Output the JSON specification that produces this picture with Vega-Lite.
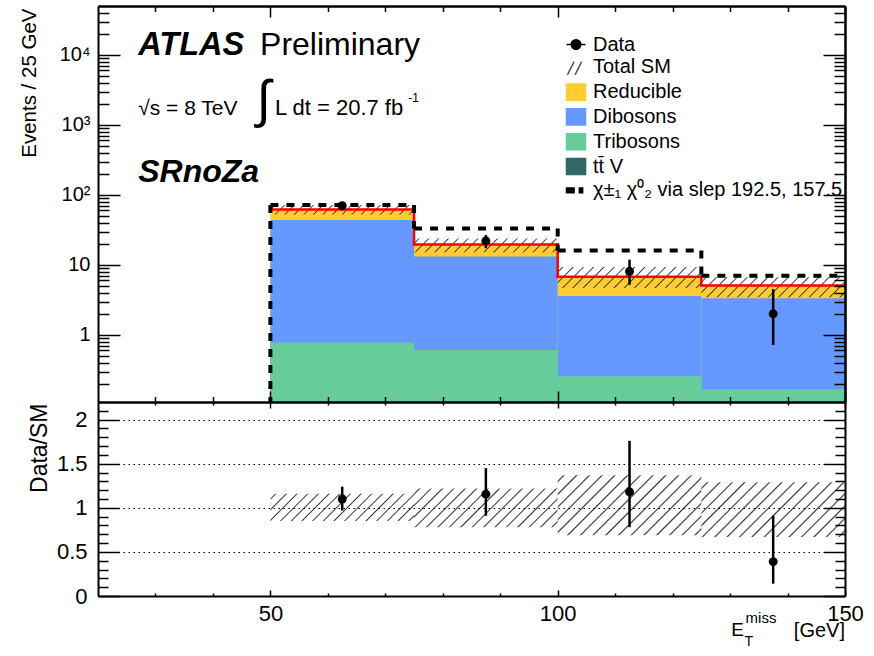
{
"$schema": "https://vega.github.io/schema/vega-lite/v6.json",
"background": "white",
"padding": {"left": 19, "top": 5, "right": 5, "bottom": 5},
"spacing": 0,
"bounds": "flush",
"config": {
  "view": {"stroke": null},
  "font": "Liberation Sans",
  "axis": {"domainColor": "black", "domainWidth": 2, "labelColor": "black", "labelFont": "Liberation Sans", "titleFont": "Liberation Sans", "titleColor": "black", "titleFontWeight": "normal", "grid": false, "labelFlush": false, "labelOverlap": false}
},
"params": [{"name": "hs", "value": [
{"offset":0.02325,"color":"rgba(51,51,51,0)"},{"offset":0.03125,"color":"#333333"},{"offset":0.03925,"color":"rgba(51,51,51,0)"},
{"offset":0.08575,"color":"rgba(51,51,51,0)"},{"offset":0.09375,"color":"#333333"},{"offset":0.10175,"color":"rgba(51,51,51,0)"},
{"offset":0.14825,"color":"rgba(51,51,51,0)"},{"offset":0.15625,"color":"#333333"},{"offset":0.16425,"color":"rgba(51,51,51,0)"},
{"offset":0.21075,"color":"rgba(51,51,51,0)"},{"offset":0.21875,"color":"#333333"},{"offset":0.22675,"color":"rgba(51,51,51,0)"},
{"offset":0.27325,"color":"rgba(51,51,51,0)"},{"offset":0.28125,"color":"#333333"},{"offset":0.28925,"color":"rgba(51,51,51,0)"},
{"offset":0.33575,"color":"rgba(51,51,51,0)"},{"offset":0.34375,"color":"#333333"},{"offset":0.35175,"color":"rgba(51,51,51,0)"},
{"offset":0.39825,"color":"rgba(51,51,51,0)"},{"offset":0.40625,"color":"#333333"},{"offset":0.41425,"color":"rgba(51,51,51,0)"},
{"offset":0.46075,"color":"rgba(51,51,51,0)"},{"offset":0.46875,"color":"#333333"},{"offset":0.47675,"color":"rgba(51,51,51,0)"},
{"offset":0.52325,"color":"rgba(51,51,51,0)"},{"offset":0.53125,"color":"#333333"},{"offset":0.53925,"color":"rgba(51,51,51,0)"},
{"offset":0.58575,"color":"rgba(51,51,51,0)"},{"offset":0.59375,"color":"#333333"},{"offset":0.60175,"color":"rgba(51,51,51,0)"},
{"offset":0.64825,"color":"rgba(51,51,51,0)"},{"offset":0.65625,"color":"#333333"},{"offset":0.66425,"color":"rgba(51,51,51,0)"},
{"offset":0.71075,"color":"rgba(51,51,51,0)"},{"offset":0.71875,"color":"#333333"},{"offset":0.72675,"color":"rgba(51,51,51,0)"},
{"offset":0.77325,"color":"rgba(51,51,51,0)"},{"offset":0.78125,"color":"#333333"},{"offset":0.78925,"color":"rgba(51,51,51,0)"},
{"offset":0.83575,"color":"rgba(51,51,51,0)"},{"offset":0.84375,"color":"#333333"},{"offset":0.85175,"color":"rgba(51,51,51,0)"},
{"offset":0.89825,"color":"rgba(51,51,51,0)"},{"offset":0.90625,"color":"#333333"},{"offset":0.91425,"color":"rgba(51,51,51,0)"},
{"offset":0.96075,"color":"rgba(51,51,51,0)"},{"offset":0.96875,"color":"#333333"},{"offset":0.97675,"color":"rgba(51,51,51,0)"}
]}],
"datasets": {
  "stack": [
    {"process": "Reducible", "lo": 50, "hi": 75, "top": 62},
    {"process": "Reducible", "lo": 75, "hi": 100, "top": 19.5},
    {"process": "Reducible", "lo": 100, "hi": 125, "top": 6.8},
    {"process": "Reducible", "lo": 125, "hi": 150, "top": 5.07},
    {"process": "Dibosons", "lo": 50, "hi": 75, "top": 43.7},
    {"process": "Dibosons", "lo": 75, "hi": 100, "top": 13.2},
    {"process": "Dibosons", "lo": 100, "hi": 125, "top": 3.6},
    {"process": "Dibosons", "lo": 125, "hi": 150, "top": 3.33},
    {"process": "Tribosons", "lo": 50, "hi": 75, "top": 0.78},
    {"process": "Tribosons", "lo": 75, "hi": 100, "top": 0.61},
    {"process": "Tribosons", "lo": 100, "hi": 125, "top": 0.257},
    {"process": "Tribosons", "lo": 125, "hi": 150, "top": 0.167}
  ],
  "bins": [
    {"lo": 50, "hi": 75, "mid": 62.5, "total": 62, "sig": 72, "data": 70, "dlo": 61.6, "dhi": 78.4, "ulo": 52.7, "uhi": 71.9, "ratio": 1.10, "rlo": 0.97, "rhi": 1.24, "blo": 0.85, "bhi": 1.16},
    {"lo": 75, "hi": 100, "mid": 87.5, "total": 19.5, "sig": 33, "data": 22, "dlo": 17.3, "dhi": 26.7, "ulo": 15.2, "uhi": 23.8, "ratio": 1.155, "rlo": 0.91, "rhi": 1.45, "blo": 0.78, "bhi": 1.22},
    {"lo": 100, "hi": 125, "mid": 112.5, "total": 6.8, "sig": 16, "data": 8.1, "dlo": 5.2, "dhi": 11.9, "ulo": 4.69, "uhi": 9.32, "ratio": 1.18, "rlo": 0.78, "rhi": 1.76, "blo": 0.69, "bhi": 1.37},
    {"lo": 125, "hi": 150, "mid": 137.5, "total": 5.07, "sig": 7.0, "data": 2.0, "dlo": 0.72, "dhi": 4.5, "ulo": 3.45, "uhi": 6.69, "ratio": 0.39, "rlo": 0.14, "rhi": 0.91, "blo": 0.67, "bhi": 1.29}
  ]
},
"vconcat": [
{
  "width": 747, "height": 396,
  "layer": [
    {"data": {"name": "stack"}, "mark": {"type": "rect", "clip": true},
     "encoding": {
       "x": {"field": "lo", "type": "quantitative", "scale": {"domain": [20, 150], "nice": false, "zero": false},
             "axis": {"orient": "bottom", "values": [50, 100, 150], "labels": false, "title": null, "ticks": true, "tickSize": 6, "tickColor": "#000000", "tickWidth": 1.5, "zindex": 1}},
       "x2": {"field": "hi"},
       "y": {"field": "top", "type": "quantitative", "scale": {"type": "log", "domain": [0.11, 50000], "nice": false},
             "axis": {"orient": "left", "values": [1, 10, 100, 1000, 10000], "ticks": false, "labelPadding": 8, "labelFontSize": 20, "zindex": 1,
                      "labelExpr": "datum.value == 1 ? '1' : datum.value == 10 ? '10' : datum.value == 100 ? '10²' : datum.value == 1000 ? '10³' : '10⁴'",
                      "title": "Events / 25 GeV", "titleFontSize": 20.5, "titleAnchor": "end", "titleAngle": 270, "titleAlign": "right", "titleX": -63, "titleY": 2, "titleBaseline": "alphabetic"}},
       "y2": {"datum": 0.11},
       "color": {"field": "process", "type": "nominal", "scale": {"domain": ["Reducible", "Dibosons", "Tribosons", "tt̄ V"], "range": ["#FFCC33", "#6699FF", "#66CC99", "#336666"]}, "legend": null}
     }},
    {"data": {"name": "stack"}, "mark": {"type": "point", "filled": true, "opacity": 0},
     "encoding": {
       "x": {"field": "lo", "type": "quantitative", "axis": null},
       "y": {"field": "top", "type": "quantitative", "axis": null},
       "fill": {"field": "process", "type": "nominal",
                "scale": {"domain": ["Data", "Total SM", "Reducible", "Dibosons", "Tribosons", "tt̄ V", "χ±₁ χ⁰₂ via slep 192.5, 157.5"], "range": ["black", "transparent", "#FFCC33", "#6699FF", "#66CC99", "#336666", "black"]},
                "legend": {"orient": "none", "legendX": 467.5, "legendY": 28, "title": null, "labelFont": "Liberation Sans", "labelFontSize": 20, "labelColor": "black", "labelLimit": 400, "labelOffset": 6.5, "symbolSize": 361, "symbolOpacity": 1, "symbolStrokeWidth": 1.5, "rowPadding": 1.8, "padding": 0}},
       "stroke": {"field": "process", "type": "nominal",
                "scale": {"domain": ["Data", "Total SM", "Reducible", "Dibosons", "Tribosons", "tt̄ V", "χ±₁ χ⁰₂ via slep 192.5, 157.5"], "range": ["black", "#555555", "#FFCC33", "#6699FF", "#66CC99", "#336666", "black"]},
                "legend": {"orient": "none", "legendX": 467.5, "legendY": 28, "title": null, "labelFont": "Liberation Sans", "labelFontSize": 20, "labelColor": "black", "labelLimit": 400, "labelOffset": 6.5, "symbolSize": 361, "symbolOpacity": 1, "symbolStrokeWidth": 1.5, "rowPadding": 1.8, "padding": 0}},
       "shape": {"field": "process", "type": "nominal",
                "scale": {"domain": ["Data", "Total SM", "Reducible", "Dibosons", "Tribosons", "tt̄ V", "χ±₁ χ⁰₂ via slep 192.5, 157.5"],
                          "range": ["M-1,0H1M0.5,0A0.5,0.5 0 1,1 -0.5,0A0.5,0.5 0 1,1 0.5,0Z", "M-0.9,0.8L-0.2,-0.6M-0.1,0.8L0.6,-0.6", "M-1,-0.85H1V0.85H-1Z", "M-1,-0.85H1V0.85H-1Z", "M-1,-0.85H1V0.85H-1Z", "M-1,-0.85H1V0.85H-1Z", "M-1,-0.25H-0.2V0.25H-1ZM0.35,-0.25H0.7V0.25H0.35Z"]},
                "legend": {"orient": "none", "legendX": 467.5, "legendY": 28, "title": null, "labelFont": "Liberation Sans", "labelFontSize": 20, "labelColor": "black", "labelLimit": 400, "labelOffset": 6.5, "symbolSize": 361, "symbolOpacity": 1, "symbolStrokeWidth": 1.5, "rowPadding": 1.8, "padding": 0}}
     }},
    {"data": {"name": "bins"}, "transform": [{"filter": "datum.lo == 50"}],
     "mark": {"type": "rect", "fill": {"expr": "{gradient: 'linear', x1: 0, y1: 0, x2: 1.0608, y2: 0.0693, stops: hs}"}},
     "encoding": {
       "x": {"field": "lo", "type": "quantitative", "axis": {"orient": "bottom", "values": [30, 40, 60, 70, 80, 90, 110, 120, 130, 140], "labels": false, "title": null, "domain": false, "ticks": true, "tickSize": 3, "tickColor": "#000000", "tickWidth": 1.5, "zindex": 1}},
       "x2": {"field": "hi"},
       "y": {"field": "ulo", "type": "quantitative", "axis": {"orient": "right", "offset": -747, "values": [1, 10, 100, 1000, 10000], "labels": false, "title": null, "domain": false, "ticks": true, "tickSize": 22, "tickColor": "#000000", "tickWidth": 1.5, "zindex": 1}},
       "y2": {"field": "uhi"}}},
    {"data": {"name": "bins"}, "transform": [{"filter": "datum.lo == 75"}],
     "mark": {"type": "rect", "fill": {"expr": "{gradient: 'linear', x1: 0, y1: 0, x2: 1.0847, y2: 0.1023, stops: hs}"}},
     "encoding": {
       "x": {"field": "lo", "type": "quantitative", "axis": {"orient": "bottom", "offset": -396, "values": [50, 100, 150], "labels": false, "title": null, "domain": true, "ticks": true, "tickSize": 11, "tickColor": "#000000", "tickWidth": 1.5, "zindex": 1}},
       "x2": {"field": "hi"},
       "y": {"field": "ulo", "type": "quantitative", "axis": {"orient": "right", "offset": -747, "values": [0.2,0.3,0.4,0.5,0.6,0.7,0.8,0.9,2,3,4,5,6,7,8,9,20,30,40,50,60,70,80,90,200,300,400,500,600,700,800,900,2000,3000,4000,5000,6000,7000,8000,9000,20000,30000,40000], "labels": false, "title": null, "domain": false, "ticks": true, "tickSize": 11, "tickColor": "#000000", "tickWidth": 1.5, "zindex": 1}},
       "y2": {"field": "uhi"}}},
    {"data": {"name": "bins"}, "transform": [{"filter": "datum.lo == 100"}],
     "mark": {"type": "rect", "fill": {"expr": "{gradient: 'linear', x1: 0, y1: 0, x2: 1.1210, y2: 0.1619, stops: hs}"}},
     "encoding": {
       "x": {"field": "lo", "type": "quantitative", "axis": {"orient": "bottom", "offset": -396, "values": [30, 40, 60, 70, 80, 90, 110, 120, 130, 140], "labels": false, "title": null, "domain": false, "ticks": true, "tickSize": 5.5, "tickColor": "#000000", "tickWidth": 1.5, "zindex": 1}},
       "x2": {"field": "hi"},
       "y": {"field": "ulo", "type": "quantitative", "axis": {"orient": "left", "offset": -747, "values": [1, 10, 100, 1000, 10000], "labels": false, "title": null, "domain": true, "ticks": true, "tickSize": 22, "tickColor": "#000000", "tickWidth": 1.5, "zindex": 1}},
       "y2": {"field": "uhi"}}},
    {"data": {"name": "bins"}, "transform": [{"filter": "datum.lo == 125"}],
     "mark": {"type": "rect", "fill": {"expr": "{gradient: 'linear', x1: 0, y1: 0, x2: 1.1176, y2: 0.1557, stops: hs}"}},
     "encoding": {
       "x": {"field": "lo", "type": "quantitative", "axis": null},
       "x2": {"field": "hi"},
       "y": {"field": "ulo", "type": "quantitative", "axis": {"orient": "left", "offset": -747, "values": [0.2,0.3,0.4,0.5,0.6,0.7,0.8,0.9,2,3,4,5,6,7,8,9,20,30,40,50,60,70,80,90,200,300,400,500,600,700,800,900,2000,3000,4000,5000,6000,7000,8000,9000,20000,30000,40000], "labels": false, "title": null, "domain": false, "ticks": true, "tickSize": 11, "tickColor": "#000000", "tickWidth": 1.5, "zindex": 1}},
       "y2": {"field": "uhi"}}},
    {"data": {"name": "bins"}, "mark": {"type": "rule", "color": "#FF0000", "strokeWidth": 2.5, "strokeCap": "square"},
     "encoding": {
       "x": {"field": "lo", "type": "quantitative", "axis": {"orient": "top", "values": [50, 100, 150], "labels": false, "title": null, "ticks": false, "zindex": 1}},
       "x2": {"field": "hi"},
       "y": {"field": "total", "type": "quantitative", "axis": {"orient": "right", "values": [1, 10, 100, 1000, 10000], "labels": false, "title": null, "ticks": false, "zindex": 1}}
     }},
    {"data": {"name": "bins"}, "transform": [{"window": [{"op": "lead", "field": "total", "as": "ntot"}], "sort": [{"field": "lo", "order": "ascending"}]}, {"filter": "isValid(datum.ntot)"}],
     "mark": {"type": "rule", "color": "#FF0000", "strokeWidth": 2.5, "strokeCap": "square"},
     "encoding": {"x": {"field": "hi", "type": "quantitative", "axis": null}, "y": {"field": "total", "type": "quantitative", "axis": null}, "y2": {"field": "ntot"}}},
    {"data": {"name": "bins"}, "mark": {"type": "rule", "color": "black", "strokeWidth": 4, "strokeDash": [8, 8]},
     "encoding": {"x": {"field": "lo", "type": "quantitative", "axis": null}, "x2": {"field": "hi"}, "y": {"field": "sig", "type": "quantitative", "axis": null}}},
    {"data": {"name": "bins"}, "transform": [{"window": [{"op": "lead", "field": "sig", "as": "nsig"}], "sort": [{"field": "lo", "order": "ascending"}]}, {"filter": "isValid(datum.nsig)"}],
     "mark": {"type": "rule", "color": "black", "strokeWidth": 4, "strokeDash": [8, 8]},
     "encoding": {"x": {"field": "hi", "type": "quantitative", "axis": null}, "y": {"field": "sig", "type": "quantitative", "axis": null}, "y2": {"field": "nsig"}}},
    {"data": {"name": "bins"}, "transform": [{"filter": "datum.lo == 50"}],
     "mark": {"type": "rule", "color": "black", "strokeWidth": 4, "strokeDash": [8, 8]},
     "encoding": {"x": {"field": "lo", "type": "quantitative", "axis": null}, "y": {"field": "sig", "type": "quantitative", "axis": null}, "y2": {"datum": 0.11}}},
    {"data": {"name": "bins"}, "mark": {"type": "rule", "color": "black", "strokeWidth": 2.5},
     "encoding": {"x": {"field": "mid", "type": "quantitative", "axis": null}, "y": {"field": "dlo", "type": "quantitative", "axis": null}, "y2": {"field": "dhi"}}},
    {"data": {"name": "bins"}, "mark": {"type": "point", "filled": true, "color": "black", "opacity": 1, "size": 80},
     "encoding": {"x": {"field": "mid", "type": "quantitative", "axis": null}, "y": {"field": "data", "type": "quantitative", "axis": null}}},
    {"data": {"values": [{"t": "ATLAS"}]}, "mark": {"type": "text", "align": "left", "baseline": "alphabetic", "fontSize": 32.5, "fontWeight": "bold", "fontStyle": "italic", "color": "black"},
     "encoding": {"x": {"datum": 27, "type": "quantitative", "axis": null}, "y": {"datum": 10000, "type": "quantitative", "axis": null}, "text": {"field": "t"}}},
    {"data": {"values": [{"t": "Preliminary"}]}, "mark": {"type": "text", "align": "left", "baseline": "alphabetic", "fontSize": 32, "color": "black"},
     "encoding": {"x": {"datum": 48.2, "type": "quantitative", "axis": null}, "y": {"datum": 10000, "type": "quantitative", "axis": null}, "text": {"field": "t"}}},
    {"data": {"values": [{"t": "√s = 8 TeV"}]}, "mark": {"type": "text", "align": "left", "baseline": "alphabetic", "fontSize": 21, "color": "black"},
     "encoding": {"x": {"datum": 27, "type": "quantitative", "axis": null}, "y": {"datum": 1380, "type": "quantitative", "axis": null}, "text": {"field": "t"}}},
    {"data": {"values": [{"t": "∫"}]}, "mark": {"type": "text", "align": "left", "baseline": "alphabetic", "fontSize": 52, "color": "black"},
     "encoding": {"x": {"datum": 47.6, "type": "quantitative", "axis": null}, "y": {"datum": 1300, "type": "quantitative", "axis": null}, "text": {"field": "t"}}},
    {"data": {"values": [{"t": "L dt = 20.7 fb"}]}, "mark": {"type": "text", "align": "left", "baseline": "alphabetic", "fontSize": 22, "color": "black"},
     "encoding": {"x": {"datum": 50.8, "type": "quantitative", "axis": null}, "y": {"datum": 1380, "type": "quantitative", "axis": null}, "text": {"field": "t"}}},
    {"data": {"values": [{"t": "-1"}]}, "mark": {"type": "text", "align": "left", "baseline": "alphabetic", "fontSize": 12, "color": "black"},
     "encoding": {"x": {"datum": 74, "type": "quantitative", "axis": null}, "y": {"datum": 2120, "type": "quantitative", "axis": null}, "text": {"field": "t"}}},
    {"data": {"values": [{"t": "SRnoZa"}]}, "mark": {"type": "text", "align": "left", "baseline": "alphabetic", "fontSize": 32, "fontWeight": "bold", "fontStyle": "italic", "color": "black"},
     "encoding": {"x": {"datum": 27, "type": "quantitative", "axis": null}, "y": {"datum": 152, "type": "quantitative", "axis": null}, "text": {"field": "t"}}}
  ],
  "resolve": {"axis": {"x": "independent", "y": "independent"}}
},
{
  "width": 747, "height": 194,
  "layer": [
    {"data": {"name": "bins"}, "transform": [{"filter": "datum.lo == 50"}],
     "mark": {"type": "rect", "fill": {"expr": "{gradient: 'linear', x1: 0, y1: 0, x2: 1.1485, y2: 0.2182, stops: hs}"}},
     "encoding": {
       "x": {"field": "lo", "type": "quantitative", "scale": {"domain": [20, 150], "nice": false, "zero": false},
             "axis": {"orient": "bottom", "values": [50, 100, 150], "labelPadding": 7, "labelFontSize": 22, "title": null, "ticks": false, "zindex": 1}},
       "x2": {"field": "hi"},
       "y": {"field": "blo", "type": "quantitative", "scale": {"domain": [0, 2.2], "nice": false, "zero": false},
             "axis": {"orient": "left", "values": [0, 0.5, 1, 1.5, 2], "format": "~g", "ticks": false, "labelPadding": 11, "labelFontSize": 22,
                      "grid": true, "gridDash": [1.5, 3.5], "gridColor": "#000000", "gridWidth": 1.2, "zindex": 1,
                      "title": "Data/SM", "titleFontSize": 23, "titleAnchor": "end", "titleAngle": 270, "titleAlign": "right", "titleX": -52, "titleY": 1, "titleBaseline": "alphabetic"}},
       "y2": {"field": "bhi"}
     }},
    {"data": {"name": "bins"}, "transform": [{"filter": "datum.lo == 75"}],
     "mark": {"type": "rect", "fill": {"expr": "{gradient: 'linear', x1: 0, y1: 0, x2: 1.1837, y2: 0.3196, stops: hs}"}},
     "encoding": {
       "x": {"field": "lo", "type": "quantitative", "axis": {"orient": "top", "values": [50, 100, 150], "labels": false, "title": null, "domain": true, "ticks": true, "tickSize": 11, "tickColor": "#000000", "tickWidth": 1.5, "zindex": 1}},
       "x2": {"field": "hi"},
       "y": {"field": "blo", "type": "quantitative", "axis": {"orient": "right", "offset": -747, "values": [0, 0.5, 1, 1.5, 2], "labels": false, "title": null, "domain": false, "ticks": true, "tickSize": 21, "tickColor": "#000000", "tickWidth": 1.5, "zindex": 1}},
       "y2": {"field": "bhi"}
     }},
    {"data": {"name": "bins"}, "transform": [{"filter": "datum.lo == 100"}],
     "mark": {"type": "rect", "fill": {"expr": "{gradient: 'linear', x1: 0, y1: 0, x2: 1.2071, y2: 0.5039, stops: hs}"}},
     "encoding": {
       "x": {"field": "lo", "type": "quantitative", "axis": {"orient": "top", "values": [30, 40, 60, 70, 80, 90, 110, 120, 130, 140], "labels": false, "title": null, "domain": false, "ticks": true, "tickSize": 5.5, "tickColor": "#000000", "tickWidth": 1.5, "zindex": 1}},
       "x2": {"field": "hi"},
       "y": {"field": "blo", "type": "quantitative", "axis": {"orient": "right", "offset": -747, "values": [0.1,0.2,0.3,0.4,0.6,0.7,0.8,0.9,1.1,1.2,1.3,1.4,1.6,1.7,1.8,1.9,2.1], "labels": false, "title": null, "domain": false, "ticks": true, "tickSize": 10, "tickColor": "#000000", "tickWidth": 1.5, "zindex": 1}},
       "y2": {"field": "bhi"}
     }},
    {"data": {"name": "bins"}, "transform": [{"filter": "datum.lo == 125"}],
     "mark": {"type": "rect", "fill": {"expr": "{gradient: 'linear', x1: 0, y1: 0, x2: 1.2059, y2: 0.4589, stops: hs}"}},
     "encoding": {
       "x": {"field": "lo", "type": "quantitative", "axis": {"orient": "top", "offset": -194, "values": [50, 100, 150], "labels": false, "title": null, "domain": false, "ticks": true, "tickSize": 6, "tickColor": "#000000", "tickWidth": 1.5, "zindex": 1}},
       "x2": {"field": "hi"},
       "y": {"field": "blo", "type": "quantitative", "axis": {"orient": "left", "offset": -747, "values": [0, 0.5, 1, 1.5, 2], "labels": false, "title": null, "domain": true, "ticks": true, "tickSize": 21, "tickColor": "#000000", "tickWidth": 1.5, "zindex": 1}},
       "y2": {"field": "bhi"}
     }},
    {"data": {"name": "bins"}, "mark": {"type": "rule", "color": "black", "strokeWidth": 2.5},
     "encoding": {
       "x": {"field": "mid", "type": "quantitative", "axis": {"orient": "top", "offset": -194, "values": [30, 40, 60, 70, 80, 90, 110, 120, 130, 140], "labels": false, "title": null, "domain": false, "ticks": true, "tickSize": 3, "tickColor": "#000000", "tickWidth": 1.5, "zindex": 1}},
       "y": {"field": "rlo", "type": "quantitative", "axis": {"orient": "left", "offset": -747, "values": [0.1,0.2,0.3,0.4,0.6,0.7,0.8,0.9,1.1,1.2,1.3,1.4,1.6,1.7,1.8,1.9,2.1], "labels": false, "title": null, "domain": false, "ticks": true, "tickSize": 10, "tickColor": "#000000", "tickWidth": 1.5, "zindex": 1}},
       "y2": {"field": "rhi"}}},
    {"data": {"name": "bins"}, "mark": {"type": "point", "filled": true, "color": "black", "opacity": 1, "size": 80},
     "encoding": {"x": {"field": "mid", "type": "quantitative", "axis": null}, "y": {"field": "ratio", "type": "quantitative", "axis": null}}},
    {"data": {"values": [{"t": "E"}]}, "mark": {"type": "text", "align": "left", "baseline": "alphabetic", "fontSize": 19, "color": "black"},
     "encoding": {"x": {"datum": 130.2, "type": "quantitative", "axis": null}, "y": {"datum": -0.45, "type": "quantitative", "axis": null}, "text": {"field": "t"}}},
    {"data": {"values": [{"t": "miss"}]}, "mark": {"type": "text", "align": "left", "baseline": "alphabetic", "fontSize": 15, "color": "black"},
     "encoding": {"x": {"datum": 132.7, "type": "quantitative", "axis": null}, "y": {"datum": -0.31, "type": "quantitative", "axis": null}, "text": {"field": "t"}}},
    {"data": {"values": [{"t": "T"}]}, "mark": {"type": "text", "align": "left", "baseline": "alphabetic", "fontSize": 14, "color": "black"},
     "encoding": {"x": {"datum": 132.5, "type": "quantitative", "axis": null}, "y": {"datum": -0.567, "type": "quantitative", "axis": null}, "text": {"field": "t"}}},
    {"data": {"values": [{"t": "[GeV]"}]}, "mark": {"type": "text", "align": "right", "baseline": "alphabetic", "fontSize": 20, "color": "black"},
     "encoding": {"x": {"datum": 150, "type": "quantitative", "axis": null}, "y": {"datum": -0.46, "type": "quantitative", "axis": null}, "text": {"field": "t"}}}
  ],
  "resolve": {"axis": {"x": "independent", "y": "independent"}}
}
]
}
